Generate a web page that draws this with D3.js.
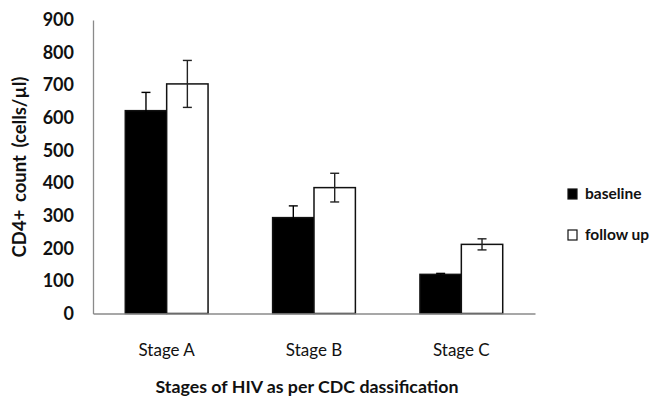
<!DOCTYPE html>
<html>
<head>
<meta charset="utf-8">
<script src="https://cdn.jsdelivr.net/npm/d3@7"></script>
<style>
  body { margin: 0; background: #fff; }
  text { font-family: Lato, "Open Sans", sans-serif; fill: #111; }
</style>
</head>
<body>
<div id="chart"></div>
<script>
// data
const stages = ['Stage A', 'Stage B', 'Stage C'];
const seriesNames = ['baseline', 'follow up'];
const baseline = [622, 294, 120];
const baselineErr = [56, 36, 3];
const followUp = [704, 386, 212];
const followUpErr = [72, 44, 17];
const yTicks = [0, 100, 200, 300, 400, 500, 600, 700, 800, 900];

const width = 660, height = 404;
const margin = { top: 20, right: 125, bottom: 90.5, left: 93 };
const innerW = width - margin.left - margin.right;
const innerH = height - margin.top - margin.bottom;

const svg = d3.select('#chart')
    .append('svg')
    .attr('width', width)
    .attr('height', height);

const g = svg.append('g')
    .attr('transform', `translate(${margin.left},${margin.top})`);

const x0 = d3.scaleBand()
    .domain(stages)
    .range([0, innerW])
    .paddingInner(0)
    .paddingOuter(0);

const x1 = d3.scaleBand()
    .domain(seriesNames)
    .range([0, x0.bandwidth()])
    .paddingOuter(0.78)
    .paddingInner(0);

const y = d3.scaleLinear()
    .domain([0, 900])
    .range([innerH, 0]);

const rows = stages.map((s, i) => ({
    stage: s,
    bars: [
        { key: 'baseline', value: baseline[i], err: baselineErr[i] },
        { key: 'follow up', value: followUp[i], err: followUpErr[i] },
    ],
}));

// y axis
const yAxis = g.append('g')
    .call(d3.axisLeft(y).tickValues(yTicks).tickSize(0).tickPadding(19));
yAxis.select('.domain').attr('stroke', '#8a8a8a').attr('stroke-width', 1.3);
yAxis.selectAll('text')
    .style('font-size', '18px')
    .style('font-weight', '700')
    .style('font-family', 'Lato, sans-serif')
    .attr('fill', '#222');

// bars
const groups = g.selectAll('.stage')
    .data(rows)
    .enter()
    .append('g')
    .attr('class', 'stage')
    .attr('transform', d => `translate(${x0(d.stage)},0)`);

groups.selectAll('rect')
    .data(d => d.bars)
    .enter()
    .append('rect')
    .attr('x', d => x1(d.key))
    .attr('y', d => y(d.value))
    .attr('width', x1.bandwidth())
    .attr('height', d => innerH - y(d.value))
    .attr('fill', d => d.key === 'baseline' ? '#000' : '#fff')
    .attr('stroke', '#111')
    .attr('stroke-width', 1.5);

// error bars
const err = groups.selectAll('.err')
    .data(d => d.bars)
    .enter()
    .append('g')
    .attr('class', 'err')
    .attr('stroke', d => d.key === 'baseline' ? '#000' : '#222')
    .attr('stroke-width', 1.4);

err.append('line')
    .attr('x1', d => x1(d.key) + x1.bandwidth() / 2)
    .attr('x2', d => x1(d.key) + x1.bandwidth() / 2)
    .attr('y1', d => y(d.value + d.err))
    .attr('y2', d => y(d.value - d.err));
err.append('line')
    .attr('x1', d => x1(d.key) + x1.bandwidth() / 2 - 4.5)
    .attr('x2', d => x1(d.key) + x1.bandwidth() / 2 + 4.5)
    .attr('y1', d => y(d.value + d.err))
    .attr('y2', d => y(d.value + d.err));
err.append('line')
    .attr('x1', d => x1(d.key) + x1.bandwidth() / 2 - 4.5)
    .attr('x2', d => x1(d.key) + x1.bandwidth() / 2 + 4.5)
    .attr('y1', d => y(d.value - d.err))
    .attr('y2', d => y(d.value - d.err));

// x axis
const xAxis = g.append('g')
    .attr('transform', `translate(0,${innerH})`)
    .call(d3.axisBottom(x0).tickSize(0).tickPadding(30));
xAxis.select('.domain').attr('stroke', '#8a8a8a').attr('stroke-width', 1.3);
xAxis.selectAll('text')
    .style('font-size', '17px')
    .style('font-family', 'Lato, sans-serif')
    .attr('fill', '#222');

// axis titles
svg.append('text')
    .attr('x', margin.left + innerW / 2 - 7)
    .attr('y', 393)
    .attr('text-anchor', 'middle')
    .style('font-size', '17.8px')
    .style('font-weight', '700')
    .text('Stages of HIV as per CDC dassification');

svg.append('text')
    .attr('transform', 'translate(26,167) rotate(-90)')
    .attr('text-anchor', 'middle')
    .style('font-size', '18.5px')
    .style('font-weight', '700')
    .style('word-spacing', '3px')
    .text('CD4+ count (cells/\u00b5l)');

// legend
const legend = svg.append('g')
    .selectAll('g')
    .data(seriesNames)
    .enter()
    .append('g')
    .attr('transform', (d, i) => `translate(568,${189 + i * 41})`);

legend.append('rect')
    .attr('width', 9)
    .attr('height', 10)
    .attr('fill', d => d === 'baseline' ? '#000' : '#fff')
    .attr('stroke', '#111')
    .attr('stroke-width', 1.2);

legend.append('text')
    .attr('x', 17)
    .attr('y', 5)
    .attr('dy', '0.35em')
    .style('font-size', '15.5px')
    .style('font-weight', '700')
    .text(d => d);
</script>
</body>
</html>
